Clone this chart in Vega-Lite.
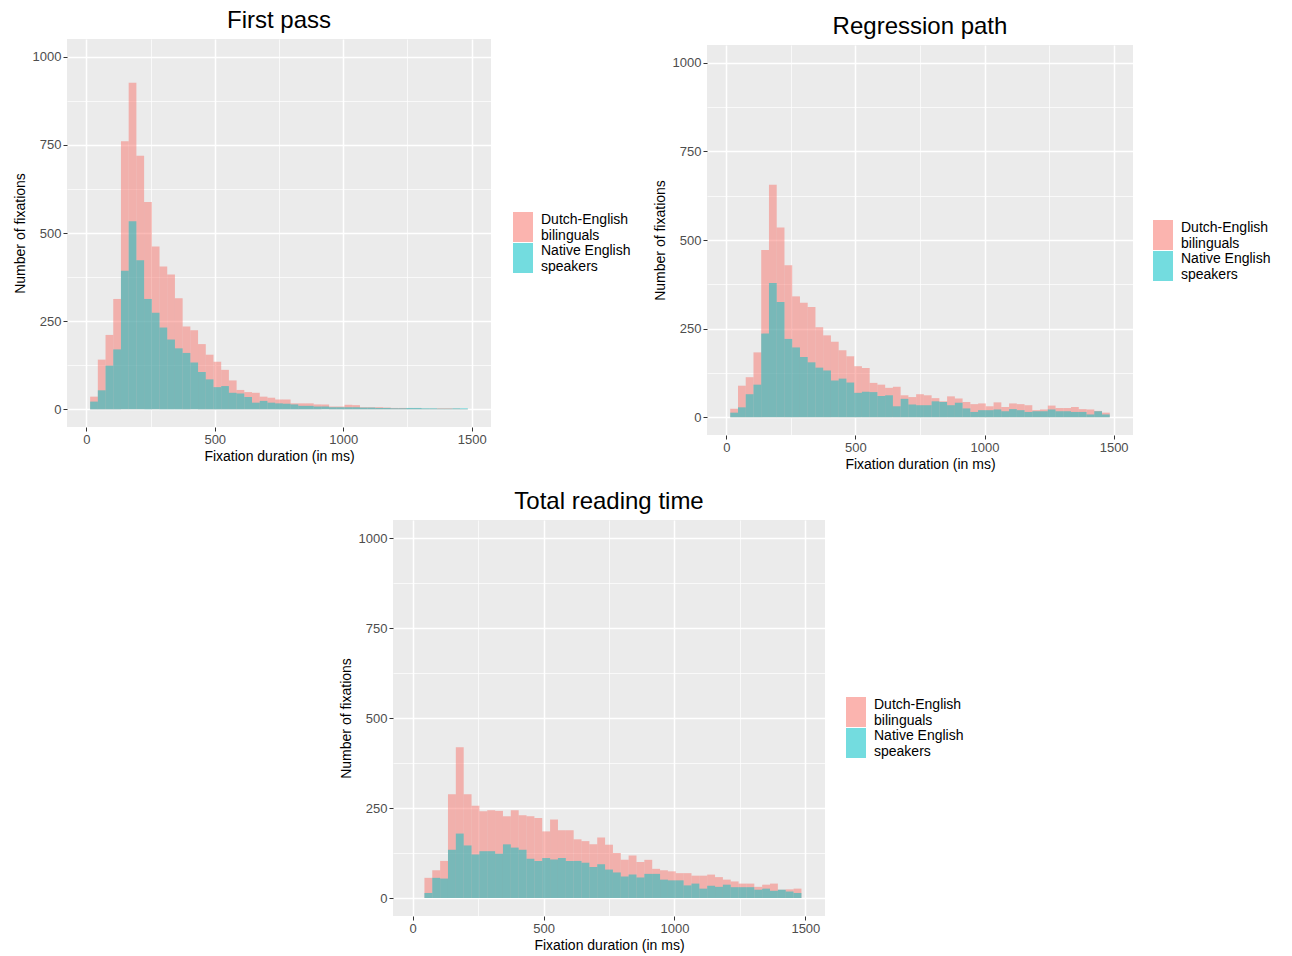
{
"$schema": "https://vega.github.io/schema/vega-lite/v6.json",
"background": "white",
"padding": {"left": 13, "top": 9, "right": 5, "bottom": 5},
"config": {
  "view": {"fill": "#EBEBEB", "stroke": null},
  "font": "Liberation Sans",
  "axis": {"domain": false, "tickColor": "#333333", "tickSize": 4, "tickWidth": 1, "labelColor": "#4D4D4D", "labelFont": "Liberation Sans", "labelFontSize": 13, "titleFont": "Liberation Sans", "titleFontSize": 14, "titleFontWeight": "normal", "titleColor": "#000000", "gridColor": "#FFFFFF", "gridOpacity": 1},
  "legend": {"labelFont": "Liberation Sans", "labelFontSize": 14, "labelColor": "#000000", "labelBaseline": "bottom", "padding": 0},
  "title": {"font": "Liberation Sans", "fontSize": 24, "fontWeight": "normal", "color": "#000000", "anchor": "middle", "frame": "group", "baseline": "alphabetic", "offset": 6}
},
"datasets": {
"fp": [
{"g":"D","b":15,"e":45,"n":36},{"g":"D","b":45,"e":75,"n":141},{"g":"D","b":75,"e":105,"n":211},{"g":"D","b":105,"e":135,"n":313},{"g":"D","b":135,"e":165,"n":760},{"g":"D","b":165,"e":195,"n":926},{"g":"D","b":195,"e":225,"n":719},{"g":"D","b":225,"e":255,"n":588},{"g":"D","b":255,"e":285,"n":462},{"g":"D","b":285,"e":315,"n":405},{"g":"D","b":315,"e":345,"n":382},{"g":"D","b":345,"e":375,"n":315},{"g":"D","b":375,"e":405,"n":235},{"g":"D","b":405,"e":435,"n":224},{"g":"D","b":435,"e":465,"n":185},{"g":"D","b":465,"e":495,"n":155},{"g":"D","b":495,"e":525,"n":135},{"g":"D","b":525,"e":555,"n":112},{"g":"D","b":555,"e":585,"n":82},{"g":"D","b":585,"e":615,"n":55},{"g":"D","b":615,"e":645,"n":49},{"g":"D","b":645,"e":675,"n":47},{"g":"D","b":675,"e":705,"n":36},{"g":"D","b":705,"e":735,"n":33},{"g":"D","b":735,"e":765,"n":28},{"g":"D","b":765,"e":795,"n":28},{"g":"D","b":795,"e":825,"n":17},{"g":"D","b":825,"e":855,"n":17},{"g":"D","b":855,"e":885,"n":17},{"g":"D","b":885,"e":915,"n":14},{"g":"D","b":915,"e":945,"n":14},{"g":"D","b":945,"e":975,"n":8},{"g":"D","b":975,"e":1005,"n":8},{"g":"D","b":1005,"e":1035,"n":13},{"g":"D","b":1035,"e":1065,"n":12},{"g":"D","b":1065,"e":1095,"n":6},{"g":"D","b":1095,"e":1125,"n":6},{"g":"D","b":1125,"e":1155,"n":6},{"g":"D","b":1155,"e":1185,"n":5},{"g":"D","b":1185,"e":1215,"n":4},{"g":"D","b":1215,"e":1245,"n":4},{"g":"D","b":1245,"e":1275,"n":3},{"g":"D","b":1275,"e":1305,"n":3},{"g":"D","b":1305,"e":1335,"n":2},{"g":"D","b":1335,"e":1365,"n":2},{"g":"D","b":1365,"e":1395,"n":3},{"g":"D","b":1395,"e":1425,"n":3},{"g":"D","b":1425,"e":1455,"n":2},{"g":"D","b":1455,"e":1485,"n":1},
{"g":"N","b":15,"e":45,"n":22},{"g":"N","b":45,"e":75,"n":54},{"g":"N","b":75,"e":105,"n":124},{"g":"N","b":105,"e":135,"n":170},{"g":"N","b":135,"e":165,"n":393},{"g":"N","b":165,"e":195,"n":533},{"g":"N","b":195,"e":225,"n":423},{"g":"N","b":225,"e":255,"n":313},{"g":"N","b":255,"e":285,"n":274},{"g":"N","b":285,"e":315,"n":232},{"g":"N","b":315,"e":345,"n":198},{"g":"N","b":345,"e":375,"n":173},{"g":"N","b":375,"e":405,"n":160},{"g":"N","b":405,"e":435,"n":133},{"g":"N","b":435,"e":465,"n":106},{"g":"N","b":465,"e":495,"n":85},{"g":"N","b":495,"e":525,"n":63},{"g":"N","b":525,"e":555,"n":66},{"g":"N","b":555,"e":585,"n":47},{"g":"N","b":585,"e":615,"n":45},{"g":"N","b":615,"e":645,"n":35},{"g":"N","b":645,"e":675,"n":19},{"g":"N","b":675,"e":705,"n":24},{"g":"N","b":705,"e":735,"n":19},{"g":"N","b":735,"e":765,"n":17},{"g":"N","b":765,"e":795,"n":16},{"g":"N","b":795,"e":825,"n":14},{"g":"N","b":825,"e":855,"n":10},{"g":"N","b":855,"e":885,"n":10},{"g":"N","b":885,"e":915,"n":8},{"g":"N","b":915,"e":945,"n":8},{"g":"N","b":945,"e":975,"n":6},{"g":"N","b":975,"e":1005,"n":6},{"g":"N","b":1005,"e":1035,"n":6},{"g":"N","b":1035,"e":1065,"n":6},{"g":"N","b":1065,"e":1095,"n":5},{"g":"N","b":1095,"e":1125,"n":5},{"g":"N","b":1125,"e":1155,"n":4},{"g":"N","b":1155,"e":1185,"n":4},{"g":"N","b":1185,"e":1215,"n":3},{"g":"N","b":1215,"e":1245,"n":3},{"g":"N","b":1245,"e":1275,"n":4},{"g":"N","b":1275,"e":1305,"n":4},{"g":"N","b":1305,"e":1335,"n":3},{"g":"N","b":1335,"e":1365,"n":3},{"g":"N","b":1365,"e":1395,"n":2},{"g":"N","b":1395,"e":1425,"n":2},{"g":"N","b":1425,"e":1455,"n":3},{"g":"N","b":1455,"e":1485,"n":3}
],
"rp": [
{"g":"D","b":15,"e":45,"n":24},{"g":"D","b":45,"e":75,"n":89},{"g":"D","b":75,"e":105,"n":113},{"g":"D","b":105,"e":135,"n":183},{"g":"D","b":135,"e":165,"n":472},{"g":"D","b":165,"e":195,"n":656},{"g":"D","b":195,"e":225,"n":535},{"g":"D","b":225,"e":255,"n":429},{"g":"D","b":255,"e":285,"n":341},{"g":"D","b":285,"e":315,"n":323},{"g":"D","b":315,"e":345,"n":311},{"g":"D","b":345,"e":375,"n":254},{"g":"D","b":375,"e":405,"n":231},{"g":"D","b":405,"e":435,"n":213},{"g":"D","b":435,"e":465,"n":189},{"g":"D","b":465,"e":495,"n":172},{"g":"D","b":495,"e":525,"n":144},{"g":"D","b":525,"e":555,"n":139},{"g":"D","b":555,"e":585,"n":97},{"g":"D","b":585,"e":615,"n":92},{"g":"D","b":615,"e":645,"n":83},{"g":"D","b":645,"e":675,"n":86},{"g":"D","b":675,"e":705,"n":62},{"g":"D","b":705,"e":735,"n":57},{"g":"D","b":735,"e":765,"n":65},{"g":"D","b":765,"e":795,"n":62},{"g":"D","b":795,"e":825,"n":54},{"g":"D","b":825,"e":855,"n":45},{"g":"D","b":855,"e":885,"n":59},{"g":"D","b":885,"e":915,"n":53},{"g":"D","b":915,"e":945,"n":43},{"g":"D","b":945,"e":975,"n":37},{"g":"D","b":975,"e":1005,"n":39},{"g":"D","b":1005,"e":1035,"n":31},{"g":"D","b":1035,"e":1065,"n":42},{"g":"D","b":1065,"e":1095,"n":29},{"g":"D","b":1095,"e":1125,"n":39},{"g":"D","b":1125,"e":1155,"n":37},{"g":"D","b":1155,"e":1185,"n":34},{"g":"D","b":1185,"e":1215,"n":20},{"g":"D","b":1215,"e":1245,"n":22},{"g":"D","b":1245,"e":1275,"n":33},{"g":"D","b":1275,"e":1305,"n":26},{"g":"D","b":1305,"e":1335,"n":26},{"g":"D","b":1335,"e":1365,"n":29},{"g":"D","b":1365,"e":1395,"n":23},{"g":"D","b":1395,"e":1425,"n":22},{"g":"D","b":1425,"e":1455,"n":18},{"g":"D","b":1455,"e":1485,"n":13},
{"g":"N","b":15,"e":45,"n":13},{"g":"N","b":45,"e":75,"n":28},{"g":"N","b":75,"e":105,"n":65},{"g":"N","b":105,"e":135,"n":92},{"g":"N","b":135,"e":165,"n":236},{"g":"N","b":165,"e":195,"n":379},{"g":"N","b":195,"e":225,"n":325},{"g":"N","b":225,"e":255,"n":221},{"g":"N","b":255,"e":285,"n":197},{"g":"N","b":285,"e":315,"n":170},{"g":"N","b":315,"e":345,"n":155},{"g":"N","b":345,"e":375,"n":140},{"g":"N","b":375,"e":405,"n":132},{"g":"N","b":405,"e":435,"n":104},{"g":"N","b":435,"e":465,"n":109},{"g":"N","b":465,"e":495,"n":98},{"g":"N","b":495,"e":525,"n":69},{"g":"N","b":525,"e":555,"n":72},{"g":"N","b":555,"e":585,"n":71},{"g":"N","b":585,"e":615,"n":60},{"g":"N","b":615,"e":645,"n":62},{"g":"N","b":645,"e":675,"n":31},{"g":"N","b":675,"e":705,"n":52},{"g":"N","b":705,"e":735,"n":36},{"g":"N","b":735,"e":765,"n":34},{"g":"N","b":765,"e":795,"n":34},{"g":"N","b":795,"e":825,"n":45},{"g":"N","b":825,"e":855,"n":43},{"g":"N","b":855,"e":885,"n":34},{"g":"N","b":885,"e":915,"n":41},{"g":"N","b":915,"e":945,"n":25},{"g":"N","b":945,"e":975,"n":15},{"g":"N","b":975,"e":1005,"n":20},{"g":"N","b":1005,"e":1035,"n":20},{"g":"N","b":1035,"e":1065,"n":22},{"g":"N","b":1065,"e":1095,"n":17},{"g":"N","b":1095,"e":1125,"n":23},{"g":"N","b":1125,"e":1155,"n":20},{"g":"N","b":1155,"e":1185,"n":15},{"g":"N","b":1185,"e":1215,"n":17},{"g":"N","b":1215,"e":1245,"n":17},{"g":"N","b":1245,"e":1275,"n":22},{"g":"N","b":1275,"e":1305,"n":17},{"g":"N","b":1305,"e":1335,"n":17},{"g":"N","b":1335,"e":1365,"n":15},{"g":"N","b":1365,"e":1395,"n":15},{"g":"N","b":1395,"e":1425,"n":8},{"g":"N","b":1425,"e":1455,"n":17},{"g":"N","b":1455,"e":1485,"n":8}
],
"tr": [
{"g":"D","b":45,"e":75,"n":56},{"g":"D","b":75,"e":105,"n":77},{"g":"D","b":105,"e":135,"n":103},{"g":"D","b":135,"e":165,"n":288},{"g":"D","b":165,"e":195,"n":419},{"g":"D","b":195,"e":225,"n":288},{"g":"D","b":225,"e":255,"n":256},{"g":"D","b":255,"e":285,"n":241},{"g":"D","b":285,"e":315,"n":244},{"g":"D","b":315,"e":345,"n":242},{"g":"D","b":345,"e":375,"n":227},{"g":"D","b":375,"e":405,"n":244},{"g":"D","b":405,"e":435,"n":230},{"g":"D","b":435,"e":465,"n":227},{"g":"D","b":465,"e":495,"n":222},{"g":"D","b":495,"e":525,"n":185},{"g":"D","b":525,"e":555,"n":218},{"g":"D","b":555,"e":585,"n":188},{"g":"D","b":585,"e":615,"n":188},{"g":"D","b":615,"e":645,"n":163},{"g":"D","b":645,"e":675,"n":158},{"g":"D","b":675,"e":705,"n":149},{"g":"D","b":705,"e":735,"n":168},{"g":"D","b":735,"e":765,"n":148},{"g":"D","b":765,"e":795,"n":125},{"g":"D","b":795,"e":825,"n":106},{"g":"D","b":825,"e":855,"n":118},{"g":"D","b":855,"e":885,"n":100},{"g":"D","b":885,"e":915,"n":106},{"g":"D","b":915,"e":945,"n":81},{"g":"D","b":945,"e":975,"n":77},{"g":"D","b":975,"e":1005,"n":74},{"g":"D","b":1005,"e":1035,"n":69},{"g":"D","b":1035,"e":1065,"n":69},{"g":"D","b":1065,"e":1095,"n":62},{"g":"D","b":1095,"e":1125,"n":62},{"g":"D","b":1125,"e":1155,"n":65},{"g":"D","b":1155,"e":1185,"n":58},{"g":"D","b":1185,"e":1215,"n":51},{"g":"D","b":1215,"e":1245,"n":46},{"g":"D","b":1245,"e":1275,"n":40},{"g":"D","b":1275,"e":1305,"n":40},{"g":"D","b":1305,"e":1335,"n":31},{"g":"D","b":1335,"e":1365,"n":37},{"g":"D","b":1365,"e":1395,"n":40},{"g":"D","b":1395,"e":1425,"n":23},{"g":"D","b":1425,"e":1455,"n":24},{"g":"D","b":1455,"e":1485,"n":26},
{"g":"N","b":45,"e":75,"n":14},{"g":"N","b":75,"e":105,"n":56},{"g":"N","b":105,"e":135,"n":54},{"g":"N","b":135,"e":165,"n":134},{"g":"N","b":165,"e":195,"n":179},{"g":"N","b":195,"e":225,"n":146},{"g":"N","b":225,"e":255,"n":121},{"g":"N","b":255,"e":285,"n":130},{"g":"N","b":285,"e":315,"n":130},{"g":"N","b":315,"e":345,"n":123},{"g":"N","b":345,"e":375,"n":149},{"g":"N","b":375,"e":405,"n":140},{"g":"N","b":405,"e":435,"n":134},{"g":"N","b":435,"e":465,"n":109},{"g":"N","b":465,"e":495,"n":103},{"g":"N","b":495,"e":525,"n":111},{"g":"N","b":525,"e":555,"n":107},{"g":"N","b":555,"e":585,"n":111},{"g":"N","b":585,"e":615,"n":103},{"g":"N","b":615,"e":645,"n":103},{"g":"N","b":645,"e":675,"n":98},{"g":"N","b":675,"e":705,"n":86},{"g":"N","b":705,"e":735,"n":94},{"g":"N","b":735,"e":765,"n":79},{"g":"N","b":765,"e":795,"n":71},{"g":"N","b":795,"e":825,"n":60},{"g":"N","b":825,"e":855,"n":65},{"g":"N","b":855,"e":885,"n":57},{"g":"N","b":885,"e":915,"n":67},{"g":"N","b":915,"e":945,"n":67},{"g":"N","b":945,"e":975,"n":51},{"g":"N","b":975,"e":1005,"n":49},{"g":"N","b":1005,"e":1035,"n":49},{"g":"N","b":1035,"e":1065,"n":35},{"g":"N","b":1065,"e":1095,"n":40},{"g":"N","b":1095,"e":1125,"n":26},{"g":"N","b":1125,"e":1155,"n":34},{"g":"N","b":1155,"e":1185,"n":31},{"g":"N","b":1185,"e":1215,"n":37},{"g":"N","b":1215,"e":1245,"n":30},{"g":"N","b":1245,"e":1275,"n":30},{"g":"N","b":1275,"e":1305,"n":30},{"g":"N","b":1305,"e":1335,"n":23},{"g":"N","b":1335,"e":1365,"n":26},{"g":"N","b":1365,"e":1395,"n":20},{"g":"N","b":1395,"e":1425,"n":23},{"g":"N","b":1425,"e":1455,"n":18},{"g":"N","b":1455,"e":1485,"n":14}
]
},
"bounds": "flush",
"align": "none",
"columns": 2,
"spacing": {"row": 93, "column": 216},
"concat": [
  {
   "width": 424, "height": 388,
   "data": {"name": "fp"},
   "title": {"text": "First pass"},
   "mark": {"type": "rect", "opacity": 0.5},
   "encoding": {
    "x": {"field": "b", "type": "quantitative", "scale": {"domain": [-75, 1575], "nice": false, "zero": false},
      "axis": {"title": "Fixation duration (in ms)", "values": [0,250,500,750,1000,1250,1500], "labelExpr": "datum.value % 500 === 0 ? format(datum.value, 'd') : ''", "gridWidth": {"condition": {"test": "datum.value % 500 === 0", "value": 1.5}, "value": 0.7}, "tickOpacity": {"condition": {"test": "datum.value % 500 === 0", "value": 1}, "value": 0}, "labelFlush": false, "labelOverlap": false, "labelPadding": 2, "titlePadding": 3}},
    "x2": {"field": "e"},
    "y": {"field": "n", "type": "quantitative", "scale": {"domain": [-50, 1050], "nice": false, "zero": false},
      "axis": {"title": "Number of fixations", "values": [0,125,250,375,500,625,750,875,1000], "labelExpr": "datum.value % 250 === 0 ? format(datum.value, 'd') : ''", "gridWidth": {"condition": {"test": "datum.value % 250 === 0", "value": 1.5}, "value": 0.7}, "tickOpacity": {"condition": {"test": "datum.value % 250 === 0", "value": 1}, "value": 0}, "labelOverlap": false, "labelFlush": false, "labelPadding": 2, "titlePadding": 5}},
    "y2": {"datum": 0},
    "color": {"field": "g", "type": "nominal", "scale": {"domain": ["D", "N"], "range": ["#F8766D", "#00BFC4"]},
      "legend": {"title": null, "orient": "none", "legendX": 441, "legendY": 173, "direction": "vertical", "symbolType": "M-0.667,-1H0.667V1H-0.667Z", "symbolSize": 900, "symbolOpacity": 0.55, "symbolStrokeWidth": 0, "rowPadding": 0, "labelOffset": 3, "labelLimit": 300, "labelExpr": "datum.value == 'D' ? ['Dutch-English', '\u00a0bilinguals'] : ['Native English', '\u00a0speakers']"}}
   }
  },
  {
   "bounds": "flush",
   "spacing": 0,
   "vconcat": [
    {"width": 426, "height": 6, "data": {"values": []}, "mark": "point", "view": {"fill": null, "stroke": null}},
    {
     "width": 426, "height": 390,
     "data": {"name": "rp"},
     "title": {"text": "Regression path"},
     "mark": {"type": "rect", "opacity": 0.5},
     "encoding": {
      "x": {"field": "b", "type": "quantitative", "scale": {"domain": [-75, 1575], "nice": false, "zero": false},
        "axis": {"title": "Fixation duration (in ms)", "values": [0,250,500,750,1000,1250,1500], "labelExpr": "datum.value % 500 === 0 ? format(datum.value, 'd') : ''", "gridWidth": {"condition": {"test": "datum.value % 500 === 0", "value": 1.5}, "value": 0.7}, "tickOpacity": {"condition": {"test": "datum.value % 500 === 0", "value": 1}, "value": 0}, "labelFlush": false, "labelOverlap": false, "labelPadding": 2, "titlePadding": 3}},
      "x2": {"field": "e"},
      "y": {"field": "n", "type": "quantitative", "scale": {"domain": [-50, 1050], "nice": false, "zero": false},
        "axis": {"title": "Number of fixations", "values": [0,125,250,375,500,625,750,875,1000], "labelExpr": "datum.value % 250 === 0 ? format(datum.value, 'd') : ''", "gridWidth": {"condition": {"test": "datum.value % 250 === 0", "value": 1.5}, "value": 0.7}, "tickOpacity": {"condition": {"test": "datum.value % 250 === 0", "value": 1}, "value": 0}, "labelOverlap": false, "labelFlush": false, "labelPadding": 2, "titlePadding": 5}},
      "y2": {"datum": 0},
      "color": {"field": "g", "type": "nominal", "scale": {"domain": ["D", "N"], "range": ["#F8766D", "#00BFC4"]},
        "legend": {"title": null, "orient": "none", "legendX": 441, "legendY": 181, "direction": "vertical", "symbolType": "M-0.667,-1H0.667V1H-0.667Z", "symbolSize": 900, "symbolOpacity": 0.55, "symbolStrokeWidth": 0, "rowPadding": 0, "labelOffset": 3, "labelLimit": 300, "labelExpr": "datum.value == 'D' ? ['Dutch-English', '\u00a0bilinguals'] : ['Native English', '\u00a0speakers']"}}
     }
    }
   ]
  },
  {
   "bounds": "flush",
   "spacing": 0,
   "hconcat": [
    {"width": 326, "height": 1, "data": {"values": []}, "mark": "point", "view": {"fill": null, "stroke": null}},
    {
     "width": 432, "height": 396,
     "data": {"name": "tr"},
     "title": {"text": "Total reading time"},
     "mark": {"type": "rect", "opacity": 0.5},
     "encoding": {
      "x": {"field": "b", "type": "quantitative", "scale": {"domain": [-75, 1575], "nice": false, "zero": false},
        "axis": {"title": "Fixation duration (in ms)", "values": [0,250,500,750,1000,1250,1500], "labelExpr": "datum.value % 500 === 0 ? format(datum.value, 'd') : ''", "gridWidth": {"condition": {"test": "datum.value % 500 === 0", "value": 1.5}, "value": 0.7}, "tickOpacity": {"condition": {"test": "datum.value % 500 === 0", "value": 1}, "value": 0}, "labelFlush": false, "labelOverlap": false, "labelPadding": 2, "titlePadding": 3}},
      "x2": {"field": "e"},
      "y": {"field": "n", "type": "quantitative", "scale": {"domain": [-50, 1050], "nice": false, "zero": false},
        "axis": {"title": "Number of fixations", "values": [0,125,250,375,500,625,750,875,1000], "labelExpr": "datum.value % 250 === 0 ? format(datum.value, 'd') : ''", "gridWidth": {"condition": {"test": "datum.value % 250 === 0", "value": 1.5}, "value": 0.7}, "tickOpacity": {"condition": {"test": "datum.value % 250 === 0", "value": 1}, "value": 0}, "labelOverlap": false, "labelFlush": false, "labelPadding": 2, "titlePadding": 5}},
      "y2": {"datum": 0},
      "color": {"field": "g", "type": "nominal", "scale": {"domain": ["D", "N"], "range": ["#F8766D", "#00BFC4"]},
        "legend": {"title": null, "orient": "none", "legendX": 774, "legendY": 177, "direction": "vertical", "symbolType": "M-0.667,-1H0.667V1H-0.667Z", "symbolSize": 900, "symbolOpacity": 0.55, "symbolStrokeWidth": 0, "rowPadding": 0, "labelOffset": 3, "labelLimit": 300, "labelExpr": "datum.value == 'D' ? ['Dutch-English', '\u00a0bilinguals'] : ['Native English', '\u00a0speakers']"}}
     }
    }
   ]
  }
],
"resolve": {"scale": {"color": "independent"}, "legend": {"color": "independent"}}
}
